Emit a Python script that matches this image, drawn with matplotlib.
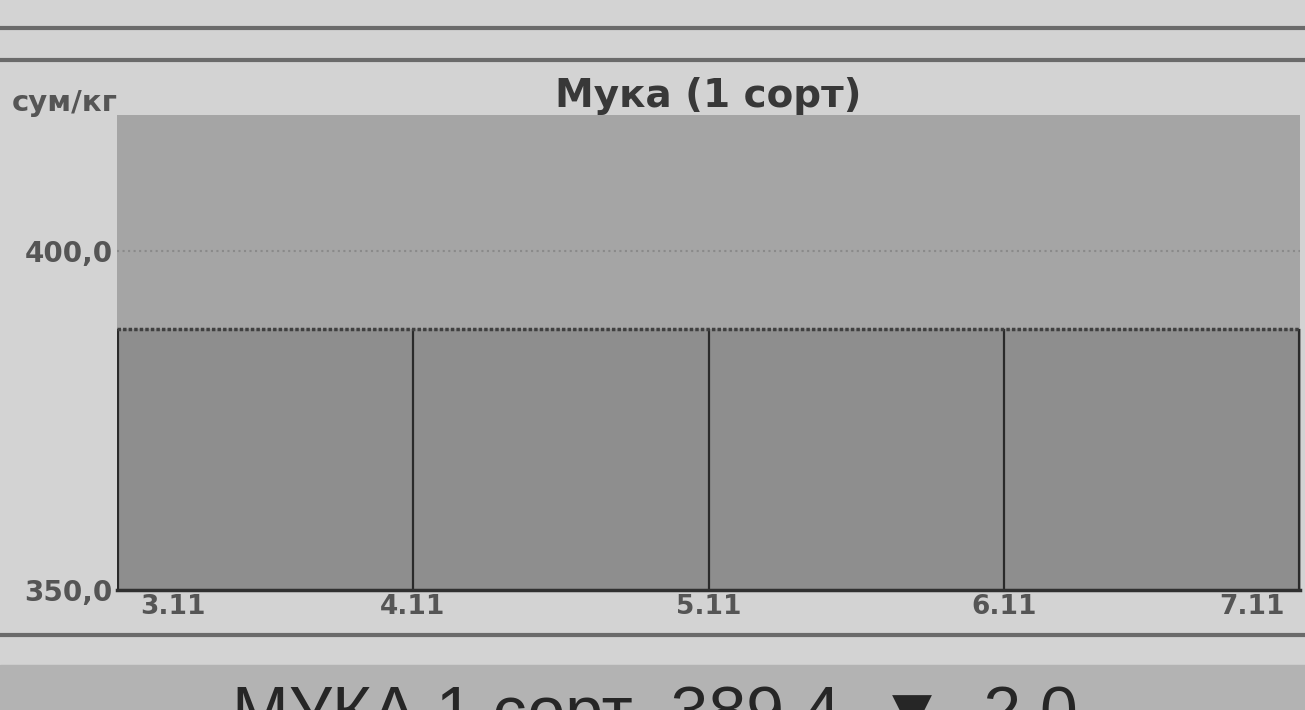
import numpy as np
import matplotlib.pyplot as plt
from matplotlib.lines import Line2D
from matplotlib.patches import Rectangle
import matplotlib.transforms as mtransforms

plt.rcParams['font.family'] = ['DejaVu Sans']

# данные
dates = ['3.11', '4.11', '5.11', '6.11', '7.11']
price = [388.5, 388.5, 388.5, 388.5, 388.5]
yticks = [350.0, 400.0]
ytick_labels = ['350,0', '400,0']
title = 'Мука (1 сорт)'
unit = 'сум/кг'
banner = 'МУКА 1 сорт  389,4  ▼  2,0'

bg = '#d3d3d3'
plot_bg = '#a5a5a5'
area_col = '#8e8e8e'

fig = plt.figure(figsize=(13.05, 7.10), dpi=100, facecolor=bg)
ax = fig.add_axes([117/1305, 120/710, 1183/1305, 475/710])
ax.set_facecolor(plot_bg)

x = np.arange(len(dates))
ax.fill_between(x, 350, price, color=area_col, zorder=2)
ax.plot(x, price, color='#404040', lw=2.5, ls=(0, (1, 0.6)), zorder=4)
ax.vlines(x, 350, price, color='#2a2a2a', lw=1.6, zorder=3)
ax.vlines([x[0], x[-1]], 350, [price[0], price[-1]], color='#2a2a2a', lw=3, zorder=3)
ax.axhline(400, color='#8a8a8a', lw=1.5, ls=':', zorder=1)

ax.set_xlim(x[0], x[-1])
ax.set_ylim(350, 420)
for s in ax.spines.values():
    s.set_visible(False)
ax.plot([x[0], x[-1]], [350, 350], color='#303030', lw=2.5, zorder=5, clip_on=False)

ax.set_yticks(yticks)
ax.set_yticklabels(ytick_labels, fontsize=20, fontweight='bold', color='#555555')
ax.tick_params(axis='y', length=0, pad=3)
ax.set_xticks(x)
ax.set_xticklabels(dates, fontsize=19, fontweight='bold', color='#555555')
ax.tick_params(axis='x', length=0, pad=3)
labs = ax.get_xticklabels()
labs[0].set_horizontalalignment('left')
labs[0].set_transform(labs[0].get_transform() + mtransforms.ScaledTranslation(0.23, 0, fig.dpi_scale_trans))
labs[-1].set_horizontalalignment('right')
labs[-1].set_transform(labs[-1].get_transform() + mtransforms.ScaledTranslation(-0.15, 0, fig.dpi_scale_trans))

ax.set_title(title, fontsize=28, fontweight='bold', color='#383838', pad=3)
fig.text(12/1305, 1 - 103/710, unit, fontsize=21, fontweight='bold', color='#555555', va='center', ha='left')

# рамки страницы
for yy in [28, 60, 635]:
    fig.add_artist(Line2D([0, 1], [1 - yy/710, 1 - yy/710], color='#6a6a6a', lw=3))
fig.add_artist(Rectangle((0, 0), 1, 45/710, color='#b3b3b3', transform=fig.transFigure, zorder=0))
fig.text(232/1305, 1 - 684/710, banner, fontsize=49, color='#262626', va='top', ha='left',
         family=['Liberation Sans', 'DejaVu Sans'])

fig.savefig('out.png', dpi=100, facecolor=bg)
